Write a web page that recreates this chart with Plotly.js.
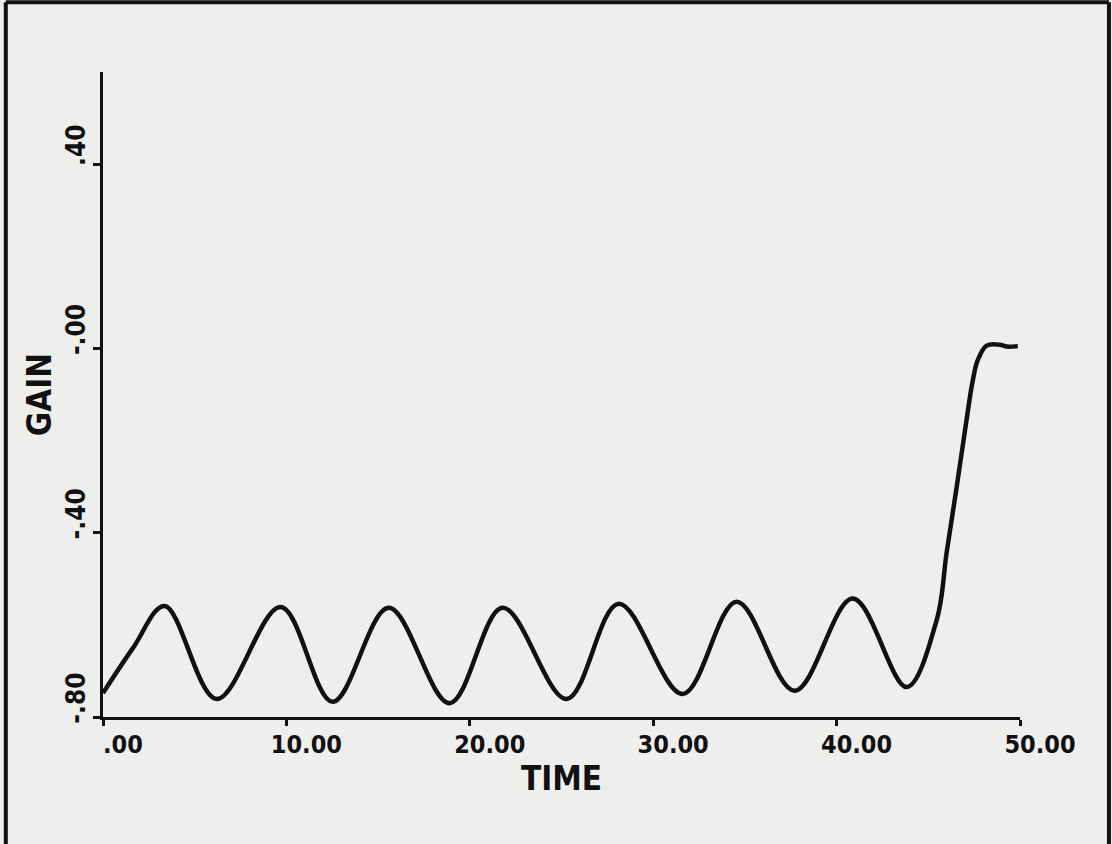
<!DOCTYPE html>
<html>
<head>
<meta charset="utf-8">
<script src="https://cdn.plot.ly/plotly-3.0.1.min.js"></script>
<style>
html,body{margin:0;padding:0;background:#eeeeec;}
#chart{width:1112px;height:844px;}
</style>
</head>
<body>
<div id="chart"></div>
<script>
// Values
const timeValues = [0.00, 1.64, 3.36, 6.20, 9.69, 12.52, 15.58, 18.90, 21.79, 25.28, 28.12, 31.61, 34.55, 37.71, 40.88, 43.82, 45.46, 46.00, 46.55, 47.09, 47.40, 47.70, 48.18, 48.89, 49.28, 49.88];
const gainValues = [-0.748, -0.650, -0.559, -0.761, -0.561, -0.767, -0.563, -0.770, -0.563, -0.761, -0.554, -0.750, -0.550, -0.743, -0.543, -0.735, -0.589, -0.443, -0.300, -0.154, -0.075, -0.025, 0.006, 0.008, 0.004, 0.005];

const xTickValues = [0, 10, 20, 30, 40, 50];
const xTickLabels = [".00", "10.00", "20.00", "30.00", "40.00", "50.00"];
const yTickValues = [-0.8, -0.4, 0.0, 0.4];
const yTickLabels = ["-.80", "-.40", "-.00", ".40"];

const plotFont = "'DejaVu Sans Condensed', 'DejaVu Sans', sans-serif";

const trace = {
  x: timeValues,
  y: gainValues,
  type: 'scatter',
  mode: 'lines',
  line: {color: '#111111', width: 4.5, shape: 'spline', smoothing: 1},
  hoverinfo: 'x+y'
};

const layout = {
  width: 1112,
  height: 844,
  margin: {l: 103, r: 92, t: 72, b: 127},
  paper_bgcolor: '#eeeeec',
  plot_bgcolor: '#eeeeec',
  showlegend: false,
  font: {family: plotFont, color: '#111111'},
  xaxis: {
    range: [0, 50],
    tickvals: xTickValues,
    ticktext: xTickLabels,
    ticks: 'outside',
    ticklen: 6,
    tickwidth: 3,
    tickcolor: '#111111',
    showline: true,
    linecolor: '#111111',
    linewidth: 3,
    showgrid: false,
    zeroline: false,
    tickfont: {family: plotFont, size: 25, color: '#111111', weight: 'bold'},
    ticklabelshift: 20,
    ticklabelstandoff: -3,
    title: {text: 'TIME', font: {family: plotFont, size: 33, color: '#111111', weight: 'bold'}, standoff: 0}
  },
  yaxis: {
    range: [-0.8, 0.6],
    tickvals: yTickValues,
    ticktext: yTickLabels,
    ticks: 'outside',
    ticklen: 7,
    tickwidth: 3,
    tickcolor: '#111111',
    showline: true,
    linecolor: '#111111',
    linewidth: 3,
    showgrid: false,
    zeroline: false,
    tickangle: -90,
    tickfont: {family: plotFont, size: 26, color: '#111111', weight: 'bold'},
    ticklabelshift: -15,
    ticklabelstandoff: -2,
    title: {text: 'GAIN', font: {family: plotFont, size: 33, color: '#111111', weight: 'bold'}, standoff: 0}
  },
  shapes: [
    {type: 'line', xref: 'paper', yref: 'paper', x0: -0.106, x1: -0.106, y0: 1.108, y1: -0.2, line: {color: '#111111', width: 4}},
    {type: 'line', xref: 'paper', yref: 'paper', x0: -0.106, x1: 1.097, y0: 1.108, y1: 1.108, line: {color: '#111111', width: 4}},
    {type: 'line', xref: 'paper', yref: 'paper', x0: 1.097, x1: 1.097, y0: 1.108, y1: -0.2, line: {color: '#111111', width: 4}}
  ]
};

Plotly.newPlot('chart', [trace], layout, {displayModeBar: false});
</script>
</body>
</html>
